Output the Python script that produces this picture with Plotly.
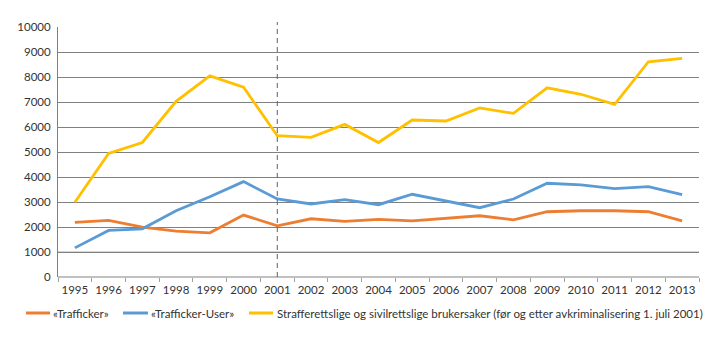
import plotly.graph_objects as go

years = [str(y) for y in range(1995, 2014)]
trafficker = [2185, 2265, 1996, 1835, 1767, 2478, 2048, 2329, 2225, 2305, 2249, 2357, 2450, 2289, 2610, 2651, 2651, 2610, 2249]
trafficker_user = [1165, 1863, 1928, 2651, 3213, 3815, 3120, 2920, 3092, 2892, 3309, 3052, 2771, 3120, 3751, 3683, 3534, 3614, 3293]
brukersaker = [2988, 4940, 5380, 7028, 8048, 7590, 5650, 5583, 6104, 5380, 6281, 6240, 6763, 6546, 7566, 7310, 6908, 8610, 8743]
names = ["«Trafficker»", "«Trafficker-User»",
         "Strafferettslige og sivilrettslige brukersaker (før og etter avkriminalisering 1. juli 2001)"]
colors = ["#ED7D31", "#5B9BD5", "#FFC000"]
y_ticks = list(range(0, 10001, 1000))
marker_year = "2001"

W, H = 720, 341
ML, MR, MT, MB = 58, 21, 27, 64
PW, PH = W - ML - MR, H - MT - MB
FONT = "Lato"


def px(x):
    return (x - ML) / PW


def py(y):
    return (H - MB - y) / PH


fig = go.Figure()
for vals, name, col in zip([trafficker, trafficker_user, brukersaker], names, colors):
    fig.add_trace(go.Scatter(x=years, y=vals, name=name, mode="lines",
                             line=dict(color=col, width=2.8), showlegend=False))

# light gray 1000 gridline
fig.add_shape(type="line", xref="paper", yref="y", x0=0, x1=1, y0=1000, y1=1000,
              line=dict(color="#c8c8c8", width=1.5), layer="below")
# dashed vertical line at 2001
xi = years.index(marker_year)
fig.add_shape(type="line", xref="x", yref="paper", x0=xi, x1=xi, y0=0, y1=py(22),
              line=dict(color="#606060", width=1, dash="5px,4px"), layer="above")

# manual legend
leg_items = [(26, 50, 53), (123, 148, 151), (249, 273, 277)]
ly = py(313)
for (x0, x1, xt), name, col in zip(leg_items, names, colors):
    fig.add_shape(type="line", xref="paper", yref="paper", x0=px(x0), x1=px(x1), y0=ly, y1=ly,
                  line=dict(color=col, width=3))
    fig.add_annotation(xref="paper", yref="paper", x=px(xt), y=ly, text=name, showarrow=False,
                       xanchor="left", yanchor="middle", font=dict(size=11.5, color="#333333"),
                       borderpad=0, xshift=-1)

fig.update_layout(
    width=W, height=H,
    margin=dict(l=ML, r=MR, t=MT, b=MB, autoexpand=False),
    paper_bgcolor="white", plot_bgcolor="white",
    font=dict(family=FONT, size=11.5, color="#333333"),
    showlegend=False,
    xaxis=dict(type="category", categoryorder="array", categoryarray=years,
               range=[-0.5, len(years) - 0.5],
               tickson="boundaries", ticks="outside", ticklen=4,
               tickcolor="#a0a0a0", showgrid=False, showline=False, zeroline=False,
               tickangle=0, tickfont=dict(size=11.5), ticklabelstandoff=4),
    yaxis=dict(range=[0, 10000], tickvals=y_ticks, ticktext=[str(v) for v in y_ticks],
               showgrid=True, gridcolor="#808080",
               gridwidth=1, zeroline=True, zerolinecolor="#c0c0c0", zerolinewidth=2,
               showline=True, linecolor="#808080", linewidth=1,
               ticks="", tickfont=dict(size=11.5), ticklabelstandoff=4),
)
fig.write_html("out.html")
